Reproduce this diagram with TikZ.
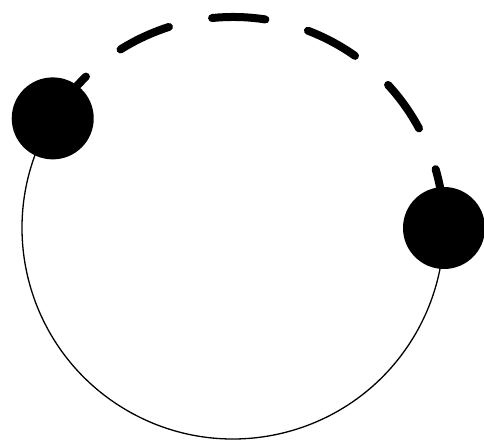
\documentclass[tikz,border=0pt]{standalone}
\usepackage{tikz}
\usetikzlibrary{calc}

\tikzset{
  bead/.style={circle, fill=black, inner sep=0pt, minimum size=82pt},
  pathline/.style={black, line width=1.3pt},
  jumpline/.style={black, line width=8pt, line cap=round, dash pattern=on 53.5pt off 44.1pt}
}

\begin{document}
\begin{tikzpicture}[x=1pt, y=1pt]
  \useasboundingbox (0,0) rectangle (484,441);

  % Kreis, Mittelpunkt und Radius
  \coordinate (mid) at (233,213);
  \coordinate (lpos) at ($(mid)+(148.7:211)$);
  \coordinate (rpos) at ($(mid)+(0:211)$);

  % untere Bahn
  \draw[pathline] (lpos) arc[start angle=148.7, end angle=360, radius=211];

  % obere Bahn, gestrichelt
  \draw[jumpline] (lpos) arc[start angle=148.7, end angle=0, radius=211];

  % Kugeln
  \node[bead] (lbead) at (lpos) {};
  \node[bead] (rbead) at (rpos) {};
\end{tikzpicture}
\end{document}
